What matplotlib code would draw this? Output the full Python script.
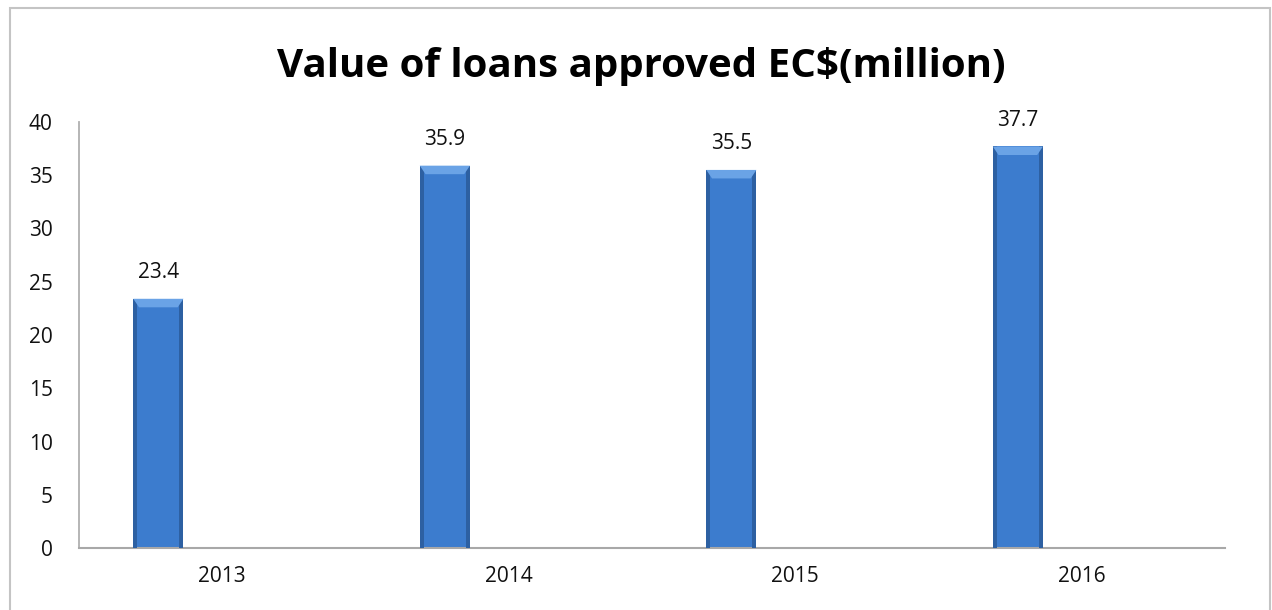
import matplotlib.pyplot as plt
import numpy as np
from matplotlib.patches import Rectangle

years = ["2013", "2014", "2015", "2016"]
loans = [23.4, 35.9, 35.5, 37.7]
yticks = [0, 5, 10, 15, 20, 25, 30, 35, 40]

plt.rcParams["font.family"] = ["Open Sans", "DejaVu Sans"]

fig = plt.figure(figsize=(12.72, 6.10), dpi=100)
ax = fig.add_axes([79 / 1272, 1 - 548 / 610, 1146 / 1272, 426 / 610])

# outer chart frame
fig.patches.append(
    Rectangle((10 / 1272, -0.05), 1260 / 1272, 1.05 - 8 / 610,
              transform=fig.transFigure, fill=False, edgecolor="#c4c4c4",
              linewidth=1.5)
)

x = np.arange(len(years))
offset = -0.223
width = 0.175
pos = x + offset

# bar body plus darker sides and a lighter top bevel
ax.bar(pos, loans, width=width, color="#3c7cce", edgecolor="none", zorder=2)
ax.bar(pos - width / 2 + 0.007, loans, width=0.014, color="#2d60a2",
       edgecolor="none", zorder=3)
ax.bar(pos + width / 2 - 0.007, loans, width=0.014, color="#2d60a2",
       edgecolor="none", zorder=3)
for p, v in zip(pos, loans):
    ax.fill([p - width / 2, p + width / 2, p + width / 2 - 0.02,
             p - width / 2 + 0.02],
            [v, v, v - 0.8, v - 0.8], color="#6aa3e6", zorder=4, lw=0)
    ax.text(p, v + 1.5, f"{v}", ha="center", va="bottom", fontsize=15,
            color="#111111")

ax.set_xlim(-0.5, len(years) - 0.5)
ax.set_ylim(0, 40)
ax.set_yticks(yticks)
ax.set_xticks(x)
ax.set_xticklabels(years)
ax.tick_params(axis="both", length=0, labelsize=15, colors="#111111")
ax.tick_params(axis="y", pad=19)
ax.tick_params(axis="x", pad=13)

for side in ["top", "right"]:
    ax.spines[side].set_visible(False)
ax.spines["left"].set_color("#b0b0b0")
ax.spines["bottom"].set_color("#a8a8a8")
ax.spines["left"].set_linewidth(1.3)
ax.spines["bottom"].set_linewidth(1.5)

fig.text(641 / 1272, 1 - 77 / 610, "Value of loans approved EC$(million)",
         ha="center", va="baseline", fontsize=29, fontweight="bold",
         color="#000000")

fig.savefig("out.png", dpi=100)
